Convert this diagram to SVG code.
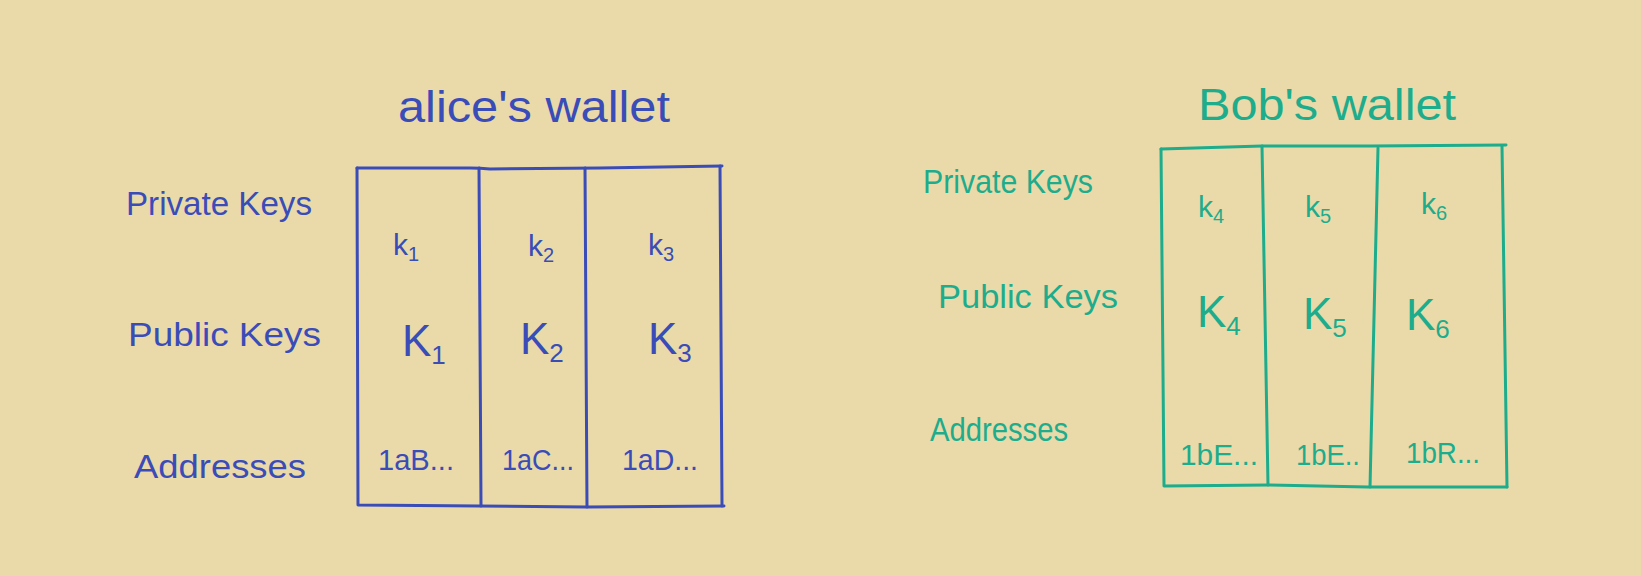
<svg xmlns="http://www.w3.org/2000/svg" width="1641" height="576" viewBox="0 0 1641 576">
<style>
.bg{fill:#eadaa9}
.a{fill:#3a4cb8}
.b{fill:#1dac8c}
.t{font-family:"Liberation Sans","DejaVu Sans",sans-serif;font-weight:normal}
.lbl{font-size:34px}
.ttl{font-size:44px}
.pk{font-size:30px}
.uk{font-size:44px}
.ad{font-size:30px}
.ln{fill:none;stroke-width:3;stroke-linecap:round;stroke-linejoin:round}
.la{stroke:#3a4cb8}
.lb{stroke:#1dac8c}
</style>
<rect class="bg" x="0" y="0" width="1641" height="576"/>

<g id="alice-title"><text class="t ttl a" x="398" y="122" textLength="272" lengthAdjust="spacingAndGlyphs">alice's wallet</text></g>
<g id="alice-row-labels">
<text class="t lbl a" x="126" y="215" textLength="186" lengthAdjust="spacingAndGlyphs">Private Keys</text>
<text class="t lbl a" x="128" y="346" textLength="193" lengthAdjust="spacingAndGlyphs">Public Keys</text>
<text class="t lbl a" x="134" y="478" textLength="172" lengthAdjust="spacingAndGlyphs">Addresses</text>
</g>
<g id="alice-table">
<path class="ln la" d="M357 168 L470 168 Q480 168 490 169 L600 168 L722 166"/>
<path class="ln la" d="M357 168 L358 505 L479 506 L587 507 L724 506"/>
<path class="ln la" d="M720 166 L722 506"/>
<path class="ln la" d="M479 168 L481 506"/>
<path class="ln la" d="M585 168 L587 507"/>
</g>
<g id="alice-cells">
<text class="t pk a" x="393" y="255">k<tspan font-size="20" dy="6">1</tspan></text>
<text class="t pk a" x="528" y="256">k<tspan font-size="20" dy="6">2</tspan></text>
<text class="t pk a" x="648" y="255">k<tspan font-size="20" dy="6">3</tspan></text>
<text class="t uk a" x="402" y="356">K<tspan font-size="26" dy="8">1</tspan></text>
<text class="t uk a" x="520" y="354">K<tspan font-size="26" dy="8">2</tspan></text>
<text class="t uk a" x="648" y="354">K<tspan font-size="26" dy="8">3</tspan></text>
<text class="t ad a" x="378" y="470" textLength="76" lengthAdjust="spacingAndGlyphs">1aB...</text>
<text class="t ad a" x="502" y="470" textLength="72" lengthAdjust="spacingAndGlyphs">1aC...</text>
<text class="t ad a" x="622" y="470" textLength="76" lengthAdjust="spacingAndGlyphs">1aD...</text>
</g>

<g id="bob-title"><text class="t ttl b" x="1198" y="120" textLength="258" lengthAdjust="spacingAndGlyphs">Bob's wallet</text></g>
<g id="bob-row-labels">
<text class="t lbl b" x="923" y="193" textLength="170" lengthAdjust="spacingAndGlyphs">Private Keys</text>
<text class="t lbl b" x="938" y="308" textLength="180" lengthAdjust="spacingAndGlyphs">Public Keys</text>
<text class="t lbl b" x="930" y="441" textLength="138" lengthAdjust="spacingAndGlyphs">Addresses</text>
</g>
<g id="bob-table">
<path class="ln lb" d="M1161 149 L1262 146 L1370 146 L1506 145"/>
<path class="ln lb" d="M1161 149 L1164 486 L1268 485 L1368 487 L1507 487"/>
<path class="ln lb" d="M1502 146 L1507 487"/>
<path class="ln lb" d="M1262 146 L1268 485"/>
<path class="ln lb" d="M1378 148 L1370 487"/>
</g>
<g id="bob-cells">
<text class="t pk b" x="1198" y="217">k<tspan font-size="20" dy="6">4</tspan></text>
<text class="t pk b" x="1305" y="217">k<tspan font-size="20" dy="6">5</tspan></text>
<text class="t pk b" x="1421" y="214">k<tspan font-size="20" dy="6">6</tspan></text>
<text class="t uk b" x="1197" y="327">K<tspan font-size="26" dy="8">4</tspan></text>
<text class="t uk b" x="1303" y="329">K<tspan font-size="26" dy="8">5</tspan></text>
<text class="t uk b" x="1406" y="330">K<tspan font-size="26" dy="8">6</tspan></text>
<text class="t ad b" x="1180" y="465" textLength="78" lengthAdjust="spacingAndGlyphs">1bE...</text>
<text class="t ad b" x="1296" y="465" textLength="64" lengthAdjust="spacingAndGlyphs">1bE..</text>
<text class="t ad b" x="1406" y="463" textLength="74" lengthAdjust="spacingAndGlyphs">1bR...</text>
</g>
</svg>
